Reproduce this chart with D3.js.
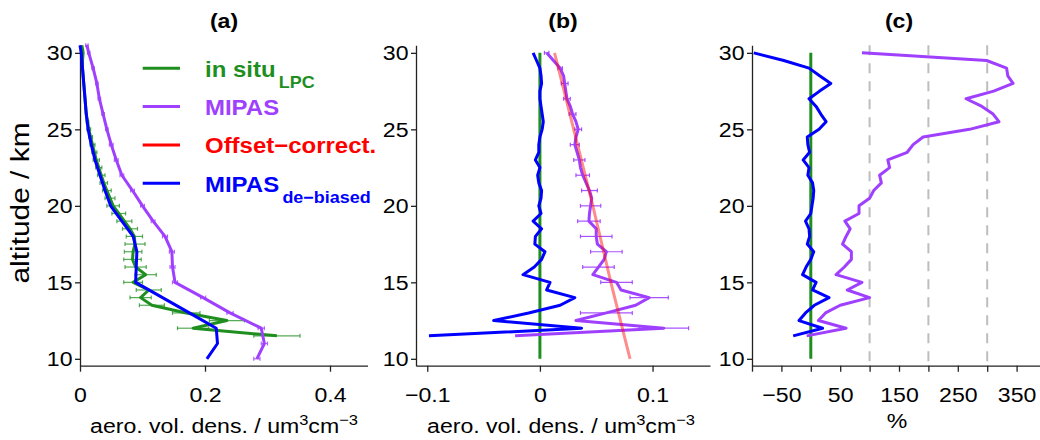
<!DOCTYPE html>
<html><head><meta charset="utf-8">
<script src="https://cdn.jsdelivr.net/npm/d3@7"></script>
<style>
body{margin:0;background:#fff}
svg{display:block}
text{font-family:"Liberation Sans",Arial,Helvetica,sans-serif;fill:#000}
</style>
</head><body>
<svg id="chart" width="1040" height="440"></svg>
<script>
// ---------------- DATA ----------------
// Panel (a): aerosol volume density profiles
const altInSitu = [30.5,30,29.5,29,28.5,28,27.5,27,26.5,26,25.5,25,24.5,24,23.5,23,22.5,22,21.5,21,20.5,20,19.5,19,18.5,18,17.5,17,16.5,16,15.5,15,14.5,14,13.5,13,12.5,12,11.5];
const inSituLPC = [0.003,0.005,0.004,0.004,0.005,0.006,0.007,0.008,0.009,0.010,0.012,0.014,0.017,0.020,0.023,0.026,0.030,0.034,0.038,0.043,0.048,0.053,0.062,0.071,0.080,0.087,0.088,0.085,0.084,0.089,0.105,0.085,0.110,0.097,0.115,0.170,0.235,0.181,0.315];
const inSituErr = [0,0,0,0,0,0,0,0,0,0,0.002,0.003,0.003,0.004,0.004,0.005,0.005,0.006,0.006,0.007,0.008,0.010,0.011,0.012,0.012,0.013,0.016,0.014,0.014,0.017,0.017,0.015,0.020,0.017,0.020,0.022,0.028,0.025,0.037];

const altMipasA = [30.5,30,29,28,27,26,25,24,23,22,21,20,19,18,17,16,15,14,13,12,11,10];
const mipasA = [0.011,0.014,0.021,0.027,0.031,0.037,0.043,0.050,0.058,0.067,0.084,0.100,0.117,0.136,0.147,0.148,0.152,0.197,0.240,0.290,0.295,0.283];
const mipasAErr = [0.002,0.002,0.002,0.002,0.002,0.002,0.002,0.003,0.003,0.003,0.003,0.003,0.003,0.004,0.004,0.004,0.004,0.004,0.005,0.005,0.005,0.005];

const altDebiasedA = [30.5,30,29,28,27,26,25,24,23,22,21,20,19,18,17,16,15,14,13,12,11,10];
const debiasedA = [0.000,0.002,0.004,0.006,0.008,0.010,0.013,0.018,0.024,0.032,0.040,0.049,0.067,0.085,0.091,0.090,0.089,0.132,0.175,0.218,0.220,0.203];

// Panel (b): differences to in situ
const altB = [30,29.5,29,28.5,28,27.5,27,26.5,26,25.5,25,24.5,24,23.5,23,22.5,22,21.5,21,20.5,20,19.5,19,18.5,18,17.5,17,16.5,16,15.5,15,14.5,14,13.5,13,12.5,12,11.5];
const mipasB = [0.006,0.012,0.018,0.021,0.022,0.023,0.024,0.027,0.029,0.032,0.034,0.032,0.031,0.033,0.035,0.036,0.038,0.041,0.044,0.046,0.045,0.044,0.0435,0.050,0.050,0.051,0.059,0.057,0.052,0.047,0.068,0.072,0.097,0.085,0.059,0.032,0.110,-0.022];
const mipasBErr = [0.002,0,0.002,0,0.003,0,0.003,0,0.003,0,0.003,0,0.004,0,0.005,0,0.006,0,0.007,0,0.009,0,0.010,0,0.014,0,0.014,0,0.014,0,0.014,0,0.017,0,0.023,0,0.022,0];
const debiasedB = [-0.006,-0.003,0,0.001,0.0015,0,0,0.001,0.002,0.003,0.002,0,-0.001,-0.001,-0.004,0,-0.002,-0.001,0.0015,0.001,-0.001,0.001,-0.006,0.0015,-0.004,-0.0045,0.0045,0.0015,-0.005,-0.015,0.009,0.006,0.031,0.018,-0.010,-0.041,0.037,-0.0985];
const altOffset = [30,25,20,15,10];
const offsetCorr = [0.013,0.030,0.047,0.063,0.080];
const altZero = [30,10];
const inSituRef = [0,0];

// Panel (c): relative differences in %
const altC = altB;
const mipasPct = [87,299,333,335,344,311,264,291,310,320,270,191,174,164,131,134,117,120,107,100,82,82,58,67,60,54,69,69,57,43,87,62,100,50,25,13,60,-7];
const debiasedPct = [-97,-46,-3,15,34,15,-3,9,17,26,14,-6,-5,-2,-13,-3,-5,3,5,4,2,0,-9,-3,-2,-6,5,0,-8,-14,9,3,31,6,-9,-20,20,-30];
const pctRefLines = [100,200,300];

// tick labels
const yTicks = [10,15,20,25,30];
const xTicksA = [0,0.2,0.4], xMinorA = [0.1,0.3];
const xTicksB = [-0.1,0,0.1], xMinorB = [-0.05,0.05];
const xTicksC = [-100,-50,0,50,100,150,200,250,300,350,400], xLabelsC = [-50,50,150,250,350];
const legendNames = ["in situ","MIPAS","Offset\u2212correct.","MIPAS"];
const legendSubs = ["LPC","","","de\u2212biased"];
const titles = ["(a)","(b)","(c)"];

// ---------------- STYLE ----------------
const C = {green:"#1e8f1e", purple:"#a040ff", red:"#ff0000", blue:"#0000ff", grey:"#bdbdbd", axis:"#222"};
const SX = 1.1;          // horizontal stretch of the fonts
const FS = 21;           // tick / label font size

const svg = d3.select("#chart");
const y = d3.scaleLinear().domain([9.55, 30.5]).range([365.7, 45.2]);
const xa = d3.scaleLinear().domain([0, 0.46]).range([80, 367.5]);
const xb = d3.scaleLinear().domain([-0.11, 0.151]).range([416, 710]);
const xc = d3.scaleLinear().domain([-100, 400]).range([752, 1046]);
const fmtMinus = v => (v < 0 ? "\u2212" : "") + Math.abs(v);

function stext(g, x, yy, str, size, bold, anchor, sx) {
  return g.append("text")
    .attr("transform", `translate(${x},${yy}) scale(${sx===undefined?SX:sx},1)`)
    .attr("text-anchor", anchor || "middle")
    .style("font-size", size + "px")
    .style("font-weight", bold ? "bold" : "normal")
    .text(str);
}

function drawAxes(x, majors, minors, labelFilter) {
  // left axis
  const gl = svg.append("g").attr("transform", `translate(${x.range()[0]},0)`);
  gl.call(d3.axisLeft(y).tickValues(d3.range(10, 31, 1)).tickSize(3).tickSizeOuter(0).tickFormat(""));
  gl.call(d3.axisLeft(y).tickValues(yTicks).tickSize(5).tickSizeOuter(0).tickFormat(d3.format("d")));
  gl.selectAll("text").attr("x", -7.5 / SX).attr("transform", `scale(${SX},1)`).style("font-size", FS + "px").attr("fill", "#000");
  // bottom axis
  const gb = svg.append("g").attr("transform", `translate(0,${y.range()[0]})`);
  if (minors) gb.call(d3.axisBottom(x).tickValues(minors).tickSize(4).tickSizeOuter(0).tickFormat(""));
  gb.call(d3.axisBottom(x).tickValues(majors).tickSize(6).tickSizeOuter(0)
     .tickFormat(d => labelFilter(d) ? fmtMinus(d) : ""));
  gb.selectAll("text").attr("y", 36).attr("dy", 0).attr("transform", `scale(${SX},1)`).style("font-size", FS + "px").attr("fill", "#000");
  svg.selectAll(".domain, .tick line").attr("stroke", C.axis).attr("stroke-width", 1.3);
}

function line(x, alts, vals, color, width, opacity) {
  const pts = alts.map((a, i) => [a, vals[i]]);
  svg.append("path").datum(pts)
    .attr("fill", "none").attr("stroke", color).attr("stroke-width", width)
    .attr("stroke-linejoin", "round").attr("stroke-opacity", opacity || 1)
    .attr("d", d3.line().x(d => x(d[1])).y(d => y(d[0])));
}

function errbars(x, alts, vals, errs, color, opacity) {
  const g = svg.append("g").attr("stroke", color).attr("stroke-width", 1.2).attr("stroke-opacity", opacity || 1);
  alts.forEach((a, i) => {
    const e = errs[i];
    if (!e) return;
    const yy = y(a), x0 = x(vals[i] - e), x1 = x(vals[i] + e);
    g.append("line").attr("x1", x0).attr("x2", x1).attr("y1", yy).attr("y2", yy);
    g.append("line").attr("x1", x0).attr("x2", x0).attr("y1", yy - 2).attr("y2", yy + 2);
    g.append("line").attr("x1", x1).attr("x2", x1).attr("y1", yy - 2).attr("y2", yy + 2);
  });
}

function xLabel(cx, baseline) {
  const t = svg.append("text")
    .attr("transform", `translate(${cx},${baseline}) scale(${SX},1)`)
    .attr("text-anchor", "middle").style("font-size", FS + "px");
  t.append("tspan").text("aero. vol. dens. / um");
  t.append("tspan").attr("dy", -8).style("font-size", "15px").text("3");
  t.append("tspan").attr("dy", 8).text("cm");
  t.append("tspan").attr("dy", -8).style("font-size", "15px").text("\u22123");
}

// ---------------- PANEL (a) ----------------
drawAxes(xa, xTicksA, xMinorA, () => true);
errbars(xa, altInSitu, inSituLPC, inSituErr, C.green, 0.75);
line(xa, altInSitu, inSituLPC, C.green, 3);
errbars(xa, altMipasA, mipasA, mipasAErr, C.purple, 0.8);
line(xa, altMipasA, mipasA, C.purple, 3);
line(xa, altDebiasedA, debiasedA, C.blue, 3);
xLabel(224, 433);
stext(svg, 224, 27.5, titles[0], 21, true);
svg.append("text")
  .attr("transform", `translate(28.5,203) rotate(-90) scale(1.15,1)`)
  .attr("text-anchor", "middle").style("font-size", "26px").text("altitude / km");

// legend
const legColors = [C.green, C.purple, C.red, C.blue];
legendNames.forEach((n, i) => {
  const ly = 68.3 + i * 38.3;
  svg.append("line").attr("x1", 142.7).attr("x2", 180).attr("y1", ly).attr("y2", ly)
    .attr("stroke", legColors[i]).attr("stroke-width", 3);
  const t = svg.append("text").attr("transform", `translate(205,${ly + 8.3}) scale(1.09,1)`)
    .style("font-size", "22px").style("font-weight", "bold").style("fill", legColors[i]);
  t.append("tspan").text(n);
  if (legendSubs[i]) t.append("tspan").attr("dy", 11.5).attr("dx", 3).style("font-size", "16.5px").text(legendSubs[i]);
});

// ---------------- PANEL (b) ----------------
drawAxes(xb, xTicksB, xMinorB, () => true);
line(xb, altZero, inSituRef, C.green, 3);
errbars(xb, altB, mipasB, mipasBErr, C.purple, 0.9);
line(xb, altB, mipasB, C.purple, 3);
line(xb, altOffset, offsetCorr, C.red, 3, 0.45);
line(xb, altB, debiasedB, C.blue, 3);
xLabel(561, 433);
stext(svg, 563, 27.5, titles[1], 21, true);

// ---------------- PANEL (c) ----------------
pctRefLines.forEach(v => {
  svg.append("line").attr("x1", xc(v)).attr("x2", xc(v)).attr("y1", y.range()[1]).attr("y2", y.range()[0])
    .attr("stroke", C.grey).attr("stroke-width", 2).attr("stroke-dasharray", "10,8");
});
drawAxes(xc, xTicksC, null, d => xLabelsC.includes(d));
line(xc, altZero, inSituRef, C.green, 3);
line(xc, altC, debiasedPct, C.blue, 3);
line(xc, altC, mipasPct, C.purple, 3);
stext(svg, 897, 428, "%", FS, false);
stext(svg, 899, 27.5, titles[2], 21, true);
</script>
</body></html>
